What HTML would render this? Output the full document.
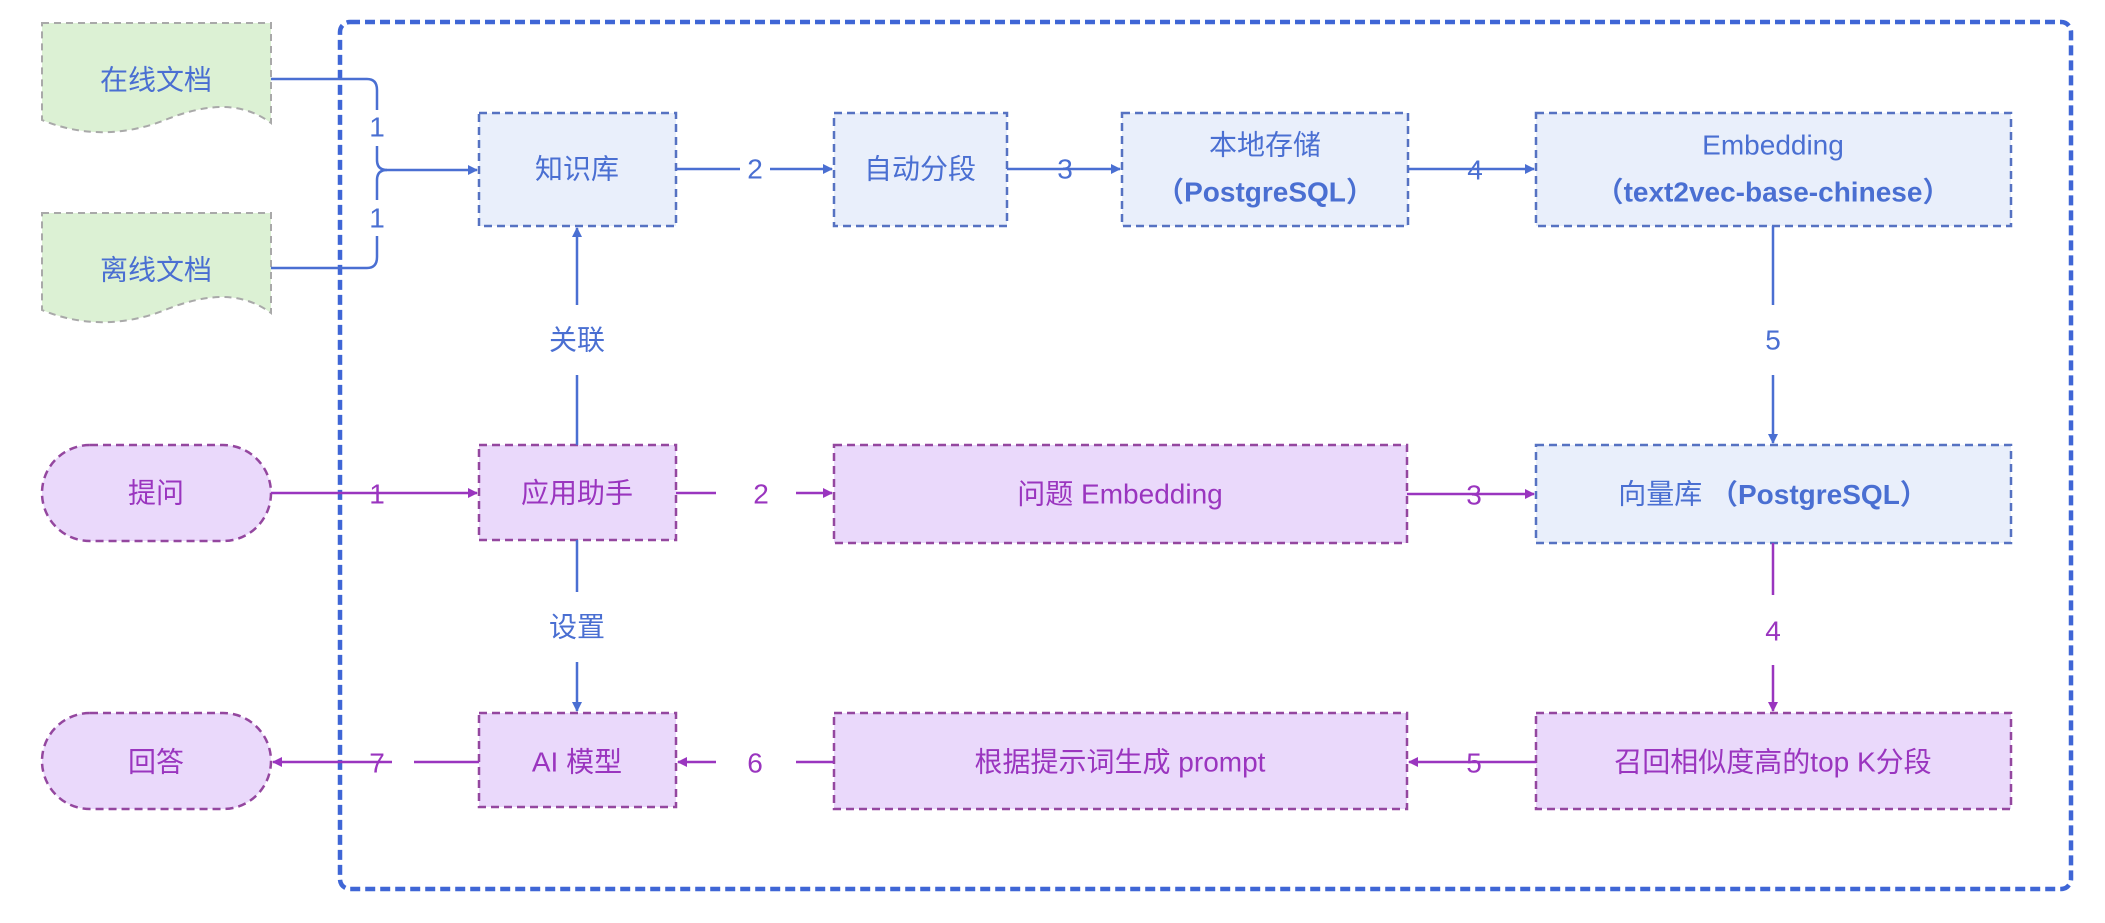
<!DOCTYPE html>
<html><head><meta charset="utf-8"><style>
html,body{margin:0;padding:0;background:#fff;}
svg{display:block;}
text{font-family:"Liberation Sans","Noto Sans CJK SC",sans-serif;font-size:28px;text-anchor:middle;dominant-baseline:central;}
.b{fill:#4a6fd2;}
.p{fill:#9a35bf;}
.bl{fill:#e9effb;stroke:#5672c2;stroke-width:2.5;stroke-dasharray:8 5;}
.pu{fill:#ead9fb;stroke:#94479f;stroke-width:2.5;stroke-dasharray:8 5;}
.lb{stroke:#4a6fd2;stroke-width:2.5;fill:none;}
.lp{stroke:#9a35bf;stroke-width:2.5;fill:none;}
</style></head><body>
<svg width="2105" height="923" viewBox="0 0 2105 923">
<defs>
<marker id="ab" markerWidth="10" markerHeight="10" refX="9" refY="5" orient="auto" markerUnits="userSpaceOnUse"><path d="M0,0 L10,5 L0,10 z" fill="#4a6fd2"/></marker>
<marker id="ap" markerWidth="10" markerHeight="10" refX="9" refY="5" orient="auto" markerUnits="userSpaceOnUse"><path d="M0,0 L10,5 L0,10 z" fill="#9a35bf"/></marker>
</defs>

<!-- docs -->
<path d="M42,23 H271 V123 C240,100 205,105 170,118 C130,135 85,138 42,120 Z" fill="#dcf1d4" stroke="#a9a9a9" stroke-width="2" stroke-dasharray="7 5"/>
<text x="156" y="80" class="b">在线文档</text>
<path d="M42,213 H271 V313 C240,290 205,295 170,308 C130,325 85,328 42,310 Z" fill="#dcf1d4" stroke="#a9a9a9" stroke-width="2" stroke-dasharray="7 5"/>
<text x="156" y="270" class="b">离线文档</text>

<!-- pills -->
<rect x="42" y="445" width="229" height="96" rx="48" class="pu"/>
<text x="156" y="493" class="p">提问</text>
<rect x="42" y="713" width="229" height="96" rx="48" class="pu"/>
<text x="156" y="762" class="p">回答</text>

<!-- outer container -->
<rect x="340" y="22" width="1731" height="867" rx="10" fill="none" stroke="#3f66d6" stroke-width="4.5" stroke-dasharray="10 5"/>

<!-- bracket connectors -->
<path d="M271,79 H367 Q377,79 377,90 V160 Q377,170 387,170 H477" class="lb" marker-end="url(#ab)"/>
<path d="M271,268 H367 Q377,268 377,257 V180 Q377,170 387,170" class="lb"/>
<rect x="364" y="110" width="26" height="36" fill="#fff"/>
<text x="377" y="127" class="b">1</text>
<rect x="364" y="200" width="26" height="36" fill="#fff"/>
<text x="377" y="218" class="b">1</text>

<!-- top row boxes -->
<rect x="479" y="113" width="197" height="113" class="bl"/>
<text x="577" y="169" class="b">知识库</text>
<rect x="834" y="113" width="173" height="113" class="bl"/>
<text x="920" y="169" class="b">自动分段</text>
<rect x="1122" y="113" width="286" height="113" class="bl"/>
<text x="1265" y="145" class="b">本地存储</text>
<text x="1265" y="192" class="b" font-weight="bold">（PostgreSQL）</text>
<rect x="1536" y="113" width="475" height="113" class="bl"/>
<text x="1773" y="145" class="b">Embedding</text>
<text x="1773" y="192" class="b" font-weight="bold">（text2vec-base-chinese）</text>

<!-- top row edges -->
<line x1="676" y1="169" x2="832" y2="169" class="lb" marker-end="url(#ab)"/>
<rect x="740" y="150" width="30" height="38" fill="#fff"/>
<text x="755" y="169" class="b">2</text>
<line x1="1007" y1="169" x2="1120" y2="169" class="lb" marker-end="url(#ab)"/>
<text x="1065" y="169" class="b">3</text>
<line x1="1408" y1="169" x2="1534" y2="169" class="lb" marker-end="url(#ab)"/>
<text x="1475" y="170" class="b">4</text>

<!-- 5 vertical -->
<line x1="1773" y1="226" x2="1773" y2="443" class="lb" marker-end="url(#ab)"/>
<rect x="1755" y="305" width="36" height="70" fill="#fff"/>
<text x="1773" y="340" class="b">5</text>

<!-- middle row -->
<rect x="479" y="445" width="197" height="95" class="pu"/>
<text x="577" y="493" class="p">应用助手</text>
<rect x="834" y="445" width="573" height="98" class="pu"/>
<text x="1120" y="494" class="p">问题 Embedding</text>
<rect x="1536" y="445" width="475" height="98" class="bl"/>
<text x="1773" y="494" class="b">向量库 <tspan font-weight="bold">（PostgreSQL）</tspan></text>

<line x1="271" y1="493" x2="477" y2="493" class="lp" marker-end="url(#ap)"/>
<rect x="362" y="475" width="30" height="36" fill="none"/>
<text x="377" y="494" class="p">1</text>
<line x1="676" y1="493" x2="832" y2="493" class="lp" marker-end="url(#ap)"/>
<rect x="716" y="475" width="80" height="38" fill="#fff"/>
<text x="761" y="494" class="p">2</text>
<line x1="1407" y1="494" x2="1534" y2="494" class="lp" marker-end="url(#ap)"/>
<text x="1474" y="495" class="p">3</text>

<!-- 关联 / 设置 -->
<line x1="577" y1="445" x2="577" y2="228" class="lb" marker-end="url(#ab)"/>
<rect x="550" y="305" width="54" height="70" fill="#fff"/>
<text x="577" y="340" class="b">关联</text>
<line x1="577" y1="540" x2="577" y2="711" class="lb" marker-end="url(#ab)"/>
<rect x="550" y="592" width="54" height="70" fill="#fff"/>
<text x="577" y="627" class="b">设置</text>

<!-- 4 vertical purple -->
<line x1="1773" y1="543" x2="1773" y2="711" class="lp" marker-end="url(#ap)"/>
<rect x="1755" y="595" width="36" height="70" fill="#fff"/>
<text x="1773" y="631" class="p">4</text>

<!-- bottom row -->
<rect x="479" y="713" width="197" height="94" class="pu"/>
<text x="577" y="762" class="p">AI 模型</text>
<rect x="834" y="713" width="573" height="96" class="pu"/>
<text x="1120" y="762" class="p">根据提示词生成 prompt</text>
<rect x="1536" y="713" width="475" height="96" class="pu"/>
<text x="1773" y="762" class="p">召回相似度高的top K分段</text>

<line x1="1536" y1="762" x2="1409" y2="762" class="lp" marker-end="url(#ap)"/>
<text x="1474" y="763" class="p">5</text>
<line x1="834" y1="762" x2="678" y2="762" class="lp" marker-end="url(#ap)"/>
<rect x="716" y="744" width="80" height="38" fill="#fff"/>
<text x="755" y="763" class="p">6</text>
<line x1="479" y1="762" x2="273" y2="762" class="lp" marker-end="url(#ap)"/>
<rect x="392" y="744" width="22" height="38" fill="#fff"/>
<text x="377" y="763" class="p">7</text>
</svg>
</body></html>
